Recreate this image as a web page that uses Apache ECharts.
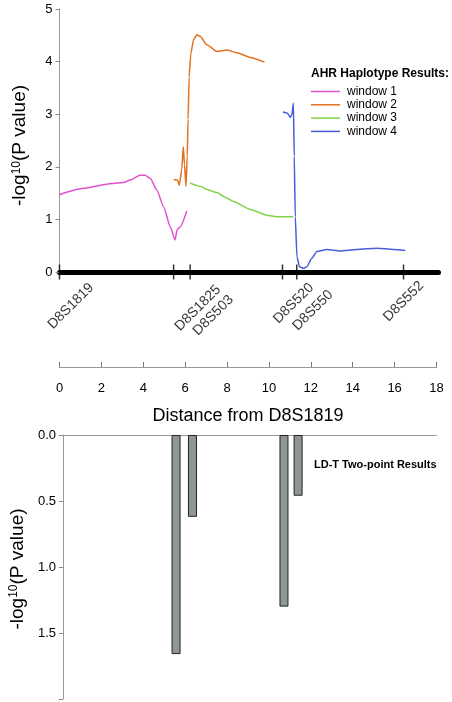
<!DOCTYPE html>
<html>
<head>
<meta charset="utf-8">
<script src="https://cdn.jsdelivr.net/npm/echarts@6/dist/echarts.min.js"></script>
<style>html,body{margin:0;padding:0;background:#fff;}#c{width:452px;height:702px;}</style>
</head>
<body>
<div id="c"></div>
<script>
// ---- data ----
const markerNames = ['D8S1819', 'D8S1825', 'D8S503', 'D8S520', 'D8S550', 'D8S552'];
const markerPos = [0, 5.45, 6.24, 10.65, 11.33, 16.43];

const w1x = [0, 1.15, 2.26, 3.06, 3.38, 3.85, 4.09, 4.33, 4.65, 4.97, 5.29, 5.52, 5.62, 5.75, 6.08];
const w1y = [1.47, 1.59, 1.67, 1.70, 1.75, 1.84, 1.84, 1.78, 1.56, 1.24, 0.86, 0.61, 0.81, 0.85, 1.16];

const w2x = [5.45, 5.64, 5.72, 5.84, 5.91, 5.97, 6.04, 6.10, 6.14, 6.19, 6.27, 6.40, 6.56, 6.72, 7.04, 7.52, 7.99, 8.47, 9.11, 9.79];
const w2y = [1.76, 1.75, 1.65, 1.95, 2.38, 2.05, 1.63, 2.20, 2.90, 3.70, 4.15, 4.41, 4.51, 4.48, 4.32, 4.19, 4.22, 4.17, 4.08, 3.99];

const w3x = [6.24, 6.72, 7.04, 7.52, 7.96, 8.31, 9.11, 9.90, 10.38, 11.17];
const w3y = [1.69, 1.63, 1.57, 1.51, 1.41, 1.34, 1.19, 1.08, 1.05, 1.05];

const w4x = [10.67, 10.89, 11.02, 11.10, 11.17, 11.21, 11.26, 11.34, 11.46, 11.65, 11.81, 12.05, 12.29, 12.77, 13.40, 14.20, 15.16, 15.95, 16.51];
const w4y = [3.04, 3.02, 2.94, 2.99, 3.21, 2.20, 1.05, 0.29, 0.10, 0.07, 0.10, 0.26, 0.39, 0.43, 0.40, 0.43, 0.45, 0.43, 0.41];

const barX = [5.45, 6.24, 10.65, 11.33];
const barVals = [1.66, 0.62, 1.30, 0.46];

const distTicks = [0, 2, 4, 6, 8, 10, 12, 14, 16, 18];
const seriesNames = ['window 1', 'window 2', 'window 3', 'window 4'];

// ---- styling ----
const FONT = '"Liberation Sans", Arial, Helvetica, sans-serif';
const colors = ['#e052cc', '#e2701e', '#80d444', '#4a5cd8'];
// label anchor offsets (px) from each marker tick
const labelOffsets = [[32, 13.5], [45, 15.5], [41, 25.5], [29, 13.5], [34, 20.5], [18, 11.5]];

const zip = (xs, ys) => xs.map((x, i) => [x, ys[i]]);
const chart = echarts.init(document.getElementById('c'), null, {renderer: 'canvas'});

const yRich = {
  a: {fontSize: 19, fontFamily: FONT, color: '#000'},
  s: {fontSize: 12, fontFamily: FONT, color: '#000', verticalAlign: 'top'}
};
const yNameText = '{a|-log}{s|10}{a|(P value)}';

const lineSeries = [zip(w1x, w1y), zip(w2x, w2y), zip(w3x, w3y), zip(w4x, w4y)].map((d, i) => ({
  name: seriesNames[i], type: 'line', data: d, xAxisIndex: 0, yAxisIndex: 0,
  symbol: 'none', smooth: 0.2, smoothMonotone: 'x',
  lineStyle: {color: colors[i], width: 1.5}, itemStyle: {color: colors[i]},
  z: 3
}));

const option = {
  animation: false,
  backgroundColor: '#fff',
  textStyle: {fontFamily: FONT},
  title: [
    {text: 'AHR Haplotype Results:', left: 311, top: 68, textStyle: {fontSize: 12, fontWeight: 'bold', color: '#000', fontFamily: FONT}, padding: 0},
    {text: 'LD-T Two-point Results', left: 314, top: 459, textStyle: {fontSize: 11, fontWeight: 'bold', color: '#000', fontFamily: FONT}, padding: 0}
  ],
  legend: {
    data: seriesNames, orient: 'vertical', left: 311, top: 85.5, padding: 0,
    icon: 'rect', itemWidth: 29, itemHeight: 1.5, itemGap: 1.3,
    textStyle: {fontSize: 12, color: '#000', fontFamily: FONT, padding: [0, 0, 0, 2]}
  },
  grid: [
    {left: 59.5, top: 9, width: 379, height: 263},
    {left: 59.5, top: 300, width: 377, height: 67},
    {left: 59.5, top: 435, width: 377, height: 264}
  ],
  xAxis: [
    {gridIndex: 0, type: 'value', min: 0, max: 18.1,
     axisLine: {onZero: true, lineStyle: {color: '#000', width: 5}},
     axisTick: {show: false}, axisLabel: {show: false}, splitLine: {show: false}},
    {gridIndex: 1, type: 'value', position: 'bottom', min: 0, max: 18, interval: 2,
     axisLine: {lineStyle: {color: '#999', width: 1}},
     axisTick: {inside: true, length: 5, lineStyle: {color: '#777'}},
     axisLabel: {customValues: distTicks, margin: 15, fontSize: 13, color: '#000', fontFamily: FONT},
     splitLine: {show: false},
     name: 'Distance from D8S1819', nameLocation: 'middle', nameGap: 40,
     nameTextStyle: {fontSize: 18, color: '#000', fontFamily: FONT}},
    {gridIndex: 2, type: 'value', position: 'top', min: 0, max: 18,
     axisLine: {onZero: false, lineStyle: {color: '#999', width: 1}},
     axisTick: {show: false}, axisLabel: {show: false}, splitLine: {show: false}}
  ],
  yAxis: [
    {gridIndex: 0, type: 'value', min: 0, max: 5, interval: 1,
     axisLine: {show: true, lineStyle: {color: '#999', width: 1}},
     axisTick: {show: true, length: 4, lineStyle: {color: '#888'}},
     axisLabel: {margin: 7, fontSize: 13, color: '#000', fontFamily: FONT},
     splitLine: {show: false},
     name: yNameText, nameLocation: 'middle', nameGap: 30,
     nameTextStyle: {rich: yRich, padding: [0, 10, 0, 0]}},
    {gridIndex: 1, type: 'value', show: false, min: 0, max: 1},
    {gridIndex: 2, type: 'value', inverse: true, min: 0, max: 2, interval: 0.5,
     axisLine: {show: true, lineStyle: {color: '#999', width: 1}},
     axisTick: {show: true, length: 4, lineStyle: {color: '#888'}},
     axisLabel: {margin: 7, fontSize: 13, color: '#000', fontFamily: FONT,
       formatter: v => (v >= 2 ? '' : v.toFixed(1))},
     splitLine: {show: false},
     name: yNameText, nameLocation: 'middle', nameGap: 32,
     nameTextStyle: {rich: yRich, padding: [0, 4, 0, 0]}}
  ],
  series: lineSeries.concat([
    {
      name: 'markers', type: 'scatter', xAxisIndex: 0, yAxisIndex: 0,
      symbol: 'rect', symbolSize: [1.5, 15], itemStyle: {color: '#000'}, z: 5,
      data: markerPos.map((x, i) => ({
        name: markerNames[i], value: [x, 0],
        label: {position: [labelOffsets[i][0] + 0.75, labelOffsets[i][1] + 7.5]}
      })),
      label: {show: true, formatter: '{b}', rotate: 45, align: 'right', verticalAlign: 'middle',
        fontSize: 14, color: '#000', fontFamily: FONT}
    },
    {
      name: 'LD-T', type: 'bar', xAxisIndex: 2, yAxisIndex: 2,
      data: zip(barX, barVals), barWidth: 9,
      itemStyle: {color: '#8e9696', borderColor: '#222', borderWidth: 1}
    }
  ])
};
chart.setOption(option);
</script>
</body>
</html>
